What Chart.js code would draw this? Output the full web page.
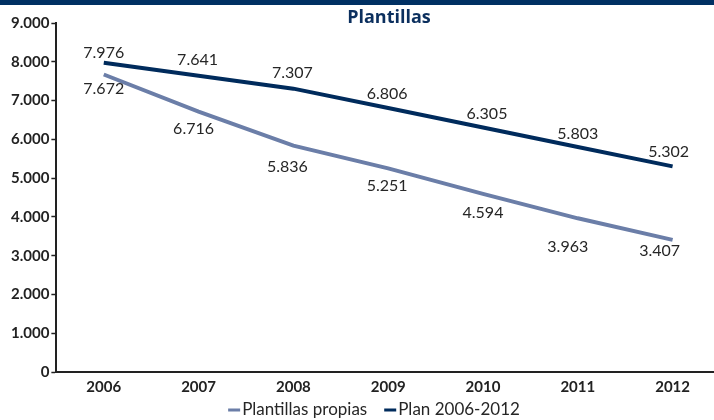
<!DOCTYPE html>
<html>
<head>
<meta charset="utf-8">
<script src="https://cdn.jsdelivr.net/npm/chart.js@4"></script>
<style>
  html, body { margin: 0; padding: 0; background: #fff; }
  #wrap { position: relative; width: 714px; height: 420px; overflow: hidden; }
  #chart { position: absolute; left: 0; top: 0; }
  #topbar { position: absolute; left: 0; top: 0; width: 714px; height: 5px; background: #003063; }
</style>
</head>
<body>
<div id="wrap">
  <canvas id="chart" width="720" height="420"></canvas>
  <div id="topbar"></div>
</div>
<script>
// datos de plantillas 2006-2012
const years = ['2006', '2007', '2008', '2009', '2010', '2011', '2012'];
const plantillasPropias = [7672, 6716, 5836, 5251, 4594, 3963, 3407];
const plan2006_2012 = [7976, 7641, 7307, 6806, 6305, 5803, 5302];
const yTicks = [0, 1000, 2000, 3000, 4000, 5000, 6000, 7000, 8000, 9000];

const NAVY = '#002b5c';
const SLATE = '#6b7ea8';

// desplazamiento de cada etiqueta respecto a su punto [dx, dy]
const labelShift = {
    'Plan 2006-2012': [[0, -10], [-1, -16], [-1, -16], [-1, -14], [4, -14], [0, -13], [-4, -15]],
    'Plantillas propias': [[0, 14], [-5, 17], [-6, 21], [-1, 17], [0, 19], [-10, 29], [-13, 11]]
};

function fmt(v) {
    // separador de miles con punto
    return v >= 1000 ? Math.floor(v / 1000) + '.' + String(v % 1000).padStart(3, '0') : String(v);
}

// etiquetas de valor sobre/bajo cada punto
const valueLabels = {
    id: 'valueLabels',
    afterDatasetsDraw(chart) {
        const ctx = chart.ctx;
        ctx.save();
        ctx.font = '16px Lato';
        ctx.fillStyle = '#262626';
        ctx.textAlign = 'center';
        ctx.textBaseline = 'middle';
        chart.data.datasets.forEach((ds, i) => {
            const meta = chart.getDatasetMeta(i);
            const shift = labelShift[ds.label];
            meta.data.forEach((pt, j) => {
                ctx.fillText(fmt(ds.data[j]), pt.x + shift[j][0], pt.y + shift[j][1]);
            });
        });
        ctx.restore();
    }
};

// titulo y leyenda dibujados a mano
const titleAndLegend = {
    id: 'titleAndLegend',
    afterDraw(chart) {
        const ctx = chart.ctx;
        ctx.save();
        ctx.font = 'bold 18px "Liberation Sans Narrow", "Open Sans"';
        ctx.fillStyle = '#0b2f5e';
        ctx.textAlign = 'center';
        ctx.textBaseline = 'middle';
        ctx.fillText('Plantillas', 389, 18);

        ctx.font = '17px Lato';
        ctx.textAlign = 'left';
        const items = chart.data.datasets.map(ds => ({ text: ds.label, color: ds.borderColor }));
        const mark = 12, gap = 2, between = 17;
        let total = 0;
        items.forEach((it, k) => {
            it.w = ctx.measureText(it.text).width;
            total += mark + gap + it.w + (k ? between : 0);
        });
        let x = 374 - total / 2;
        const y = 410;
        items.forEach(it => {
            ctx.fillStyle = it.color;
            ctx.fillRect(x, y - 1.5, mark, 3);
            ctx.fillStyle = '#262626';
            ctx.fillText(it.text, x + mark + gap, y);
            x += mark + gap + it.w + between;
        });
        ctx.restore();
    }
};

new Chart(document.getElementById('chart').getContext('2d'), {
    type: 'line',
    data: {
        labels: years,
        datasets: [
            {
                label: 'Plantillas propias',
                data: plantillasPropias,
                borderColor: SLATE,
                backgroundColor: SLATE,
                borderWidth: 4,
                pointRadius: 0,
                tension: 0
            },
            {
                label: 'Plan 2006-2012',
                data: plan2006_2012,
                borderColor: NAVY,
                backgroundColor: NAVY,
                borderWidth: 4,
                pointRadius: 0,
                tension: 0
            }
        ]
    },
    options: {
        responsive: false,
        animation: false,
        layout: { padding: { top: 23, right: 0, left: 9, bottom: 18 } },
        plugins: {
            legend: { display: false },
            tooltip: { enabled: false }
        },
        scales: {
            x: {
                offset: true,
                grid: { display: false, drawTicks: false },
                border: { display: true, color: '#222', width: 2 },
                ticks: {
                    color: '#222',
                    padding: 6,
                    font: { family: 'Lato', size: 15, weight: 'bold' }
                }
            },
            y: {
                min: 0,
                max: 9000,
                afterBuildTicks(axis) {
                    axis.ticks = yTicks.map(v => ({ value: v }));
                },
                grid: { drawOnChartArea: false, tickLength: 5, color: '#222', tickWidth: 1.5 },
                border: { display: true, color: '#222', width: 2 },
                ticks: {
                    color: '#222',
                    padding: 2,
                    font: { family: 'Lato', size: 15, weight: 'bold' },
                    callback: v => fmt(v)
                }
            }
        }
    },
    plugins: [valueLabels, titleAndLegend]
});
</script>
</body>
</html>
